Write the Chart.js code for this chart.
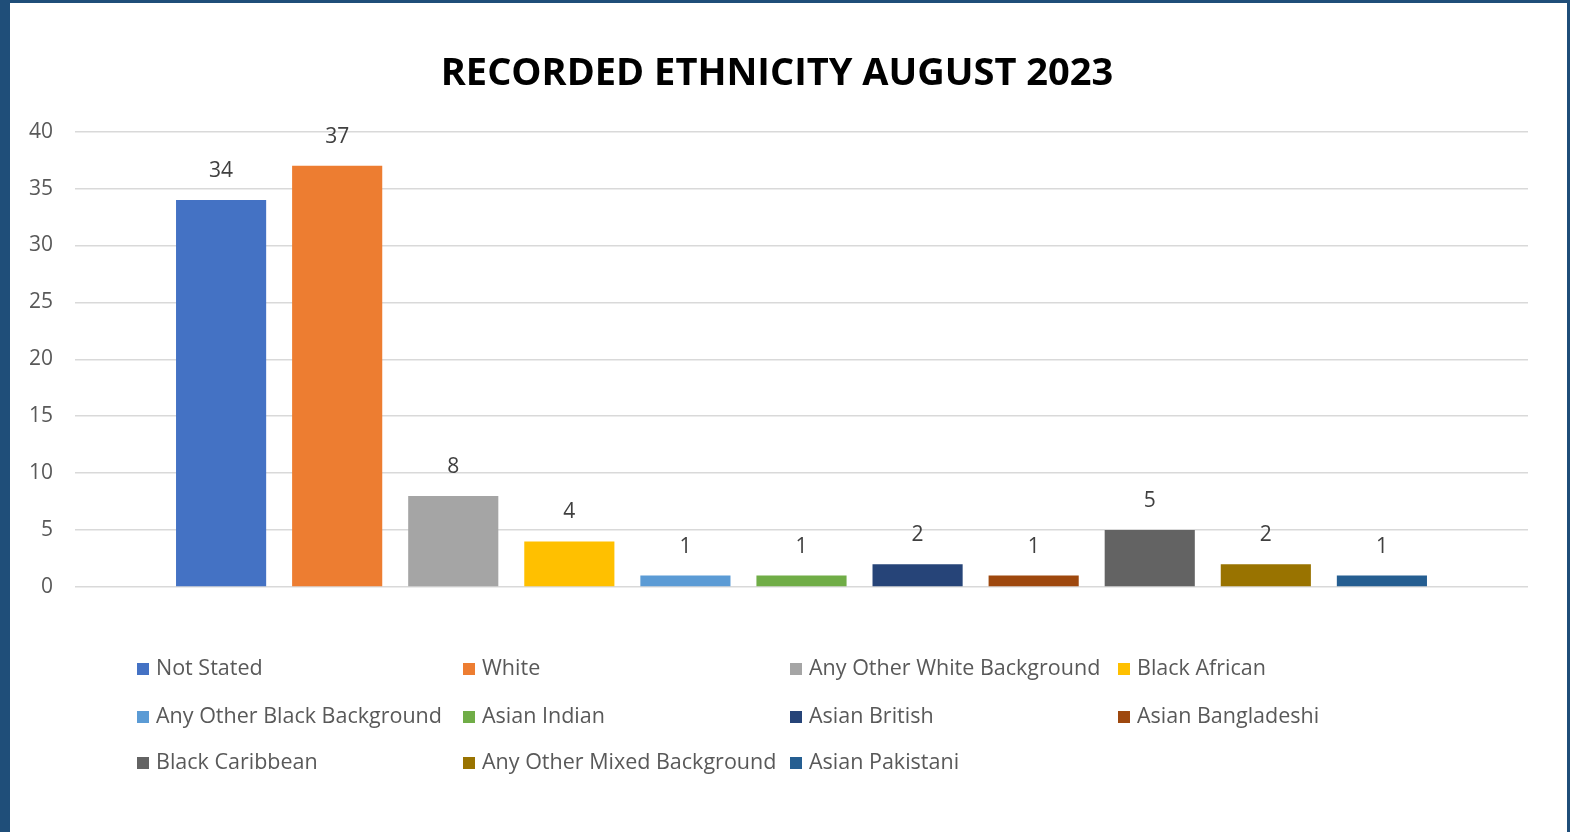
<!DOCTYPE html>
<html>
<head>
<meta charset="utf-8">
<script src="https://cdn.jsdelivr.net/npm/chart.js@4.4.0/dist/chart.umd.min.js"></script>
<style>
  html, body { margin: 0; padding: 0; }
  body { width: 1570px; height: 832px; background: #1F4E79; position: relative; overflow: hidden; }
  #frame { position: absolute; left: 10px; top: 3px; width: 1557px; height: 829px; background: #ffffff; }
  #c { display: block; }
</style>
</head>
<body>
<div id="frame"><canvas id="c" width="1557" height="829"></canvas></div>
<script>
const chartTitle = 'RECORDED ETHNICITY AUGUST 2023';
const categories = ['Not Stated', 'White', 'Any Other White Background', 'Black African',
  'Any Other Black Background', 'Asian Indian', 'Asian British', 'Asian Bangladeshi',
  'Black Caribbean', 'Any Other Mixed Background', 'Asian Pakistani'];
const counts = [34, 37, 8, 4, 1, 1, 2, 1, 5, 2, 1];
const colors = ['#4472C4', '#ED7D31', '#A5A5A5', '#FFC000', '#5B9BD5', '#70AD47',
  '#264478', '#9E480E', '#636363', '#997300', '#255E91'];
const yTicks = [0, 5, 10, 15, 20, 25, 30, 35, 40];

const FONT = '"Open Sans", "DejaVu Sans", sans-serif';
const TEXT = '#595959';

const datasets = categories.map((name, i) => ({
  label: name,
  data: [counts[i]],
  backgroundColor: colors[i],
  borderWidth: 0,
  categoryPercentage: 0.8788,
  barPercentage: 0.7765
}));

const valueLabels = {
  id: 'valueLabels',
  afterDatasetsDraw(chart) {
    const ctx = chart.ctx;
    ctx.save();
    ctx.font = '21px ' + FONT;
    ctx.fillStyle = '#404040';
    ctx.textAlign = 'center';
    ctx.textBaseline = 'middle';
    chart.data.datasets.forEach((ds, i) => {
      const meta = chart.getDatasetMeta(i);
      meta.data.forEach((bar, j) => {
        ctx.fillText(String(ds.data[j]), bar.x, bar.y - 29);
      });
    });
    ctx.restore();
  }
};

const gridLegend = {
  id: 'gridLegend',
  afterDraw(chart) {
    const ctx = chart.ctx;
    const colX = [127, 453, 780, 1108];
    const rowY = [666, 714, 760];
    ctx.save();
    ctx.font = '21.5px ' + FONT;
    ctx.textBaseline = 'middle';
    ctx.textAlign = 'left';
    chart.data.datasets.forEach((ds, i) => {
      const x = colX[i % 4];
      const y = rowY[Math.floor(i / 4)];
      ctx.fillStyle = ds.backgroundColor;
      ctx.fillRect(x, y - 6, 12, 12);
      ctx.fillStyle = TEXT;
      ctx.fillText(ds.label, x + 19, y);
    });
    ctx.restore();
  }
};

new Chart(document.getElementById('c'), {
  type: 'bar',
  data: { labels: [''], datasets },
  options: {
    responsive: false,
    animation: false,
    layout: { padding: { left: 16, right: 39, top: 0, bottom: 245 } },
    plugins: {
      legend: { display: false },
      tooltip: { enabled: false },
      title: {
        display: true,
        text: chartTitle,
        color: '#000000',
        font: { family: FONT, size: 38, weight: 'bold' },
        padding: { top: 48, bottom: 35 }
      }
    },
    scales: {
      x: { display: false, grid: { display: false } },
      y: {
        min: 0, max: 40,
        afterFit(scale) { scale.width = 49; },
        afterBuildTicks(scale) { scale.ticks = yTicks.map(v => ({ value: v })); },
        border: { display: false },
        grid: { color: '#D9D9D9', lineWidth: 1.5, drawTicks: false },
        ticks: { color: TEXT, font: { family: FONT, size: 21 }, padding: 22 }
      }
    }
  },
  plugins: [valueLabels, gridLegend]
});
</script>
</body>
</html>
